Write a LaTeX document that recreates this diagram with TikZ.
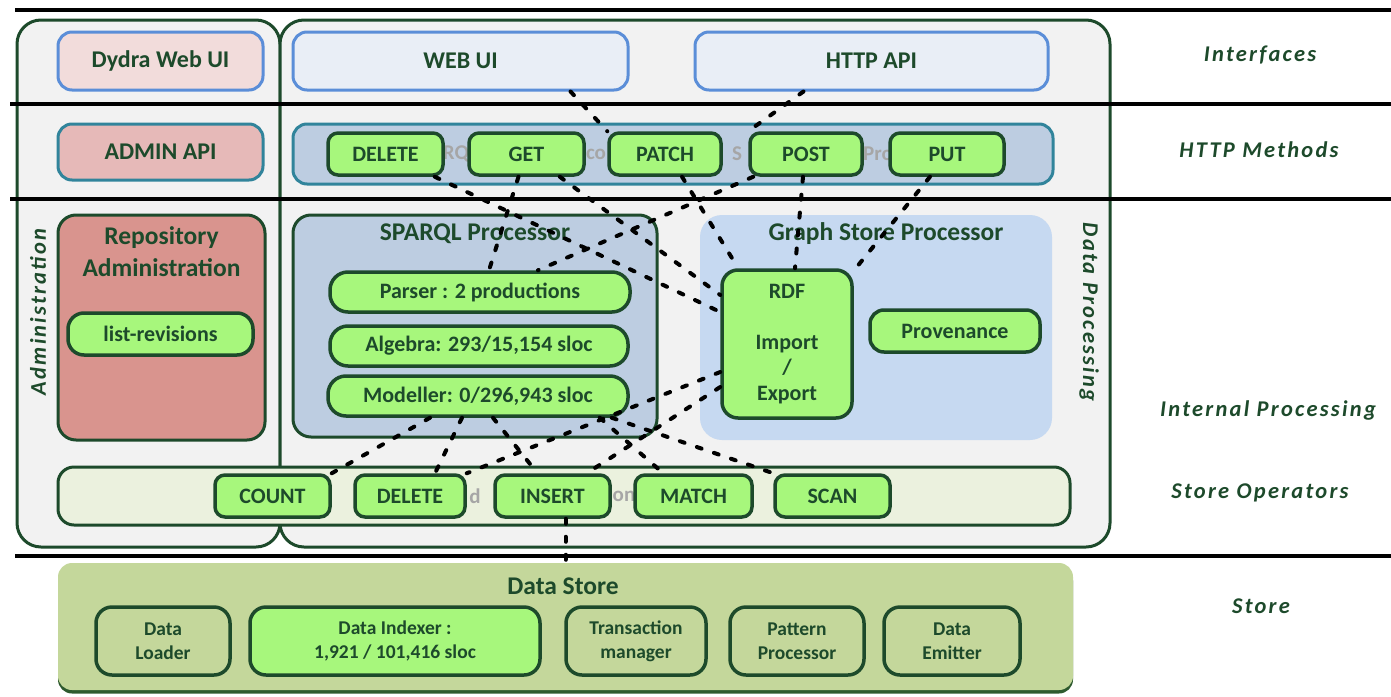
\documentclass[tikz,border=0pt]{standalone}
\usepackage{fontspec}
\setmainfont{Carlito}
\newfontfamily\spacedfont[LetterSpace=10]{Carlito}
\usetikzlibrary{calc,shadows}

\definecolor{dkgreen}{HTML}{1D4A2B}
\definecolor{lime}{HTML}{A7F77C}
\definecolor{framebg}{HTML}{F2F2F2}
\definecolor{uiblue}{HTML}{5B8ED8}
\definecolor{uifill}{HTML}{E9EEF6}
\definecolor{methodteal}{HTML}{31849B}
\definecolor{pinklight}{HTML}{F2DCDB}
\definecolor{pinkmid}{HTML}{E6B9B8}
\definecolor{salmon}{HTML}{D9948E}
\definecolor{steel}{HTML}{BDCDE1}
\definecolor{skyfill}{HTML}{C6D9F1}
\definecolor{opsfill}{HTML}{EBF1DE}
\definecolor{storefill}{HTML}{C4D79B}
\definecolor{storeshade}{HTML}{2E5A2E}
\definecolor{ghost}{HTML}{A6A6A6}

\tikzset{
  frame/.style={draw=dkgreen, line width=3pt, fill=framebg, rounded corners=24pt},
  layerline/.style={line width=3.5pt, draw=black},
  bigtext/.style={text=dkgreen, font=\fontsize{24}{28}\selectfont\bfseries},
  uibox/.style={draw=uiblue, line width=3pt, rounded corners=14pt, fill=uifill, inner sep=0pt, bigtext},
  apibox/.style={draw=methodteal, line width=3pt, rounded corners=14pt, inner sep=0pt, bigtext},
  group/.style={draw=dkgreen, line width=3pt, rounded corners=18pt, inner sep=0pt},
  title/.style={text=dkgreen, font=\fontsize{25.5}{32}\selectfont\bfseries, align=center},
  op/.style={draw=dkgreen, line width=3.5pt, fill=lime, rounded corners=10pt, inner sep=0pt,
    text=dkgreen, font=\fontsize{22}{25.5}\selectfont\bfseries, minimum height=42pt, align=center},
  pill/.style={op, rounded corners=18pt, minimum height=40pt},
  storepart/.style={draw=dkgreen, line width=3.5pt, rounded corners=16pt, inner sep=0pt,
    text=dkgreen, font=\fontsize{19.5}{24}\selectfont\bfseries, minimum height=68pt, align=center},
  ghosttext/.style={text=ghost, font=\fontsize{21}{24}\selectfont\bfseries, inner sep=0pt},
  layerlabel/.style={text=dkgreen, font=\fontsize{22.5}{26}\selectfont\spacedfont\bfseries\itshape},
  link/.style={line width=4pt, line cap=round, dash pattern=on 5pt off 13pt, draw=black},
}

\begin{document}
\begin{tikzpicture}[x=1pt,y=-1pt]
\useasboundingbox (0,0) rectangle (1391,696);

% outer frames
\node[frame, minimum width=263pt, minimum height=527pt] (adminframe) at (148.5,283.5) {};
\node[frame, minimum width=830pt, minimum height=527pt] (procframe) at (695,283.5) {};

% layer separators
\coordinate (sepAl) at (15,10);   \coordinate (sepAr) at (1391,10);
\coordinate (sepBl) at (10,104);  \coordinate (sepBr) at (1391,104);
\coordinate (sepCl) at (10,199);  \coordinate (sepCr) at (1391,199);
\coordinate (sepDl) at (15,556);  \coordinate (sepDr) at (1391,556);
\draw[layerline] (sepAl) -- (sepAr);
\draw[layerline] (sepBl) -- (sepBr);
\draw[layerline] (sepCl) -- (sepCr);
\draw[layerline] (sepDl) -- (sepDr);

% interfaces
\node[uibox, fill=pinklight, minimum width=205pt, minimum height=58pt] (dydra) at (160.5,61) {Dydra Web UI};
\node[uibox, minimum width=335pt, minimum height=58pt] (webui) at (460.5,61) {WEB UI};
\node[uibox, minimum width=353pt, minimum height=58pt] (httpapi) at (871.5,61) {HTTP API};

% http methods
\node[apibox, fill=pinkmid, minimum width=205pt, minimum height=56pt] (adminapi) at (160.5,152) {ADMIN API};
\node[apibox, fill=steel, minimum width=760pt, minimum height=60pt] (methods) at (673,154) {};
\node[ghosttext] (ghostA) at (456,154) {RQ};
\node[ghosttext] (ghostB) at (596,154) {co};
\node[ghosttext] (ghostC) at (737,154) {S};
\node[ghosttext] (ghostD) at (878,154) {Pro};
\node[op, minimum width=115pt] (mdelete) at (385.5,154) {DELETE};
\node[op, minimum width=115pt] (mget) at (526.5,154) {GET};
\node[op, minimum width=112pt] (mpatch) at (665,154) {PATCH};
\node[op, minimum width=112pt] (mpost) at (806,154) {POST};
\node[op, minimum width=114pt] (mput) at (947,154) {PUT};

% administration
\node[group, fill=salmon, minimum width=207pt, minimum height=225pt] (repoadmin) at (161.5,327.5) {};
\node[title] (repotitle) at (161.5,252) {Repository\\Administration};
\node[op, rounded corners=16pt, minimum width=185pt] (listrev) at (160.5,334) {list-revisions};

% SPARQL processor
\node[group, fill=steel, minimum width=364pt, minimum height=222pt] (sparql) at (475,326) {};
\node[title] (sparqltitle) at (475,234) {SPARQL Processor};
\node[pill, minimum width=300pt] (parser) at (480,292) {Parser : 2 productions};
\node[pill, minimum width=298pt] (algebra) at (479,346) {Algebra: 293/15,154 sloc};
\node[pill, minimum width=300pt] (modeller) at (478,396) {Modeller: 0/296,943 sloc};

% graph store processor
\node[fill=skyfill, rounded corners=22pt, inner sep=0pt, minimum width=352pt, minimum height=225pt] (graphstore) at (876,327.5) {};
\node[title] (gsptitle) at (886,234) {Graph Store Processor};
\node[op, rounded corners=16pt, minimum width=130pt, minimum height=148pt] (rdf) at (787,344) {RDF\\[25.5pt]Import\\/\\Export};
\node[op, rounded corners=14pt, minimum width=170pt] (prov) at (955,331) {Provenance};

% store operators
\node[group, fill=opsfill, rounded corners=16pt, minimum width=1012pt, minimum height=58pt] (storeops) at (564,496) {};
\node[ghosttext] (ghostE) at (475,496) {d};
\node[ghosttext] (ghostF) at (624,496) {on};
\node[op, minimum width=115pt] (count) at (272.5,496) {COUNT};
\node[op, minimum width=110pt] (sdelete) at (410,496) {DELETE};
\node[op, minimum width=115pt] (insert) at (552.5,496) {INSERT};
\node[op, minimum width=117pt] (match) at (693.5,496) {MATCH};
\node[op, minimum width=115pt] (scan) at (832.5,496) {SCAN};

% data store
\node[fill=storefill, rounded corners=14pt, inner sep=0pt, minimum width=1015pt, minimum height=127pt,
  drop shadow={shadow xshift=0pt, shadow yshift=-3.5pt, opacity=1, fill=storeshade}] (datastore) at (565.5,626.5) {};
\node[title] (storetitle) at (563,586) {Data Store};
\node[storepart, minimum width=134pt] (loader) at (163,641) {Data\\Loader};
\node[storepart, fill=lime, minimum width=290pt] (indexer) at (395,641) {Data Indexer :\\1,921 / 101,416 sloc};
\node[storepart, minimum width=140pt] (trans) at (636,641) {Transaction\\manager};
\node[storepart, minimum width=134pt] (pattern) at (797,641) {Pattern\\Processor};
\node[storepart, minimum width=136pt] (emitter) at (952,641) {Data\\Emitter};

% side and layer labels
\node[layerlabel, rotate=90] (adminlabel) at (38,312) {Administration};
\node[layerlabel, rotate=-90] (proclabel) at (1089,312) {Data Processing};
\node[layerlabel] (lblinterfaces) at (1260,55) {Interfaces};
\node[layerlabel] (lblmethods) at (1259,150) {HTTP Methods};
\node[layerlabel] (lblinternal) at (1268,410) {Internal Processing};
\node[layerlabel] (lblops) at (1260,493) {Store Operators};
\node[layerlabel] (lblstore) at (1261,606) {Store};

% request routing
\draw[link] ([xshift=110pt]webui.south) -- (mpatch.north west);
\draw[link] ([xshift=-68pt]httpapi.south) -- (mpost.north west);
\draw[link] ([xshift=-10pt]mdelete.south east) -- ([yshift=32pt]rdf.west);
\draw[link] ([xshift=-8pt]mget.south) -- ([xshift=9pt]parser.north);
\draw[link] ([xshift=-26pt]mget.south east) -- ([yshift=49pt]rdf.west);
\draw[link] ([xshift=5pt]mpost.south west) -- ([xshift=58pt]parser.north);
\draw[link] ([xshift=17pt]mpatch.south) -- ([xshift=18pt]rdf.north west);
\draw[link] ([xshift=-3pt]mpost.south) -- ([xshift=8pt]rdf.north);
\draw[link] ([xshift=-17pt]mput.south) -- ([xshift=2pt]rdf.north east);

% operator dispatch
\draw[link] ([yshift=-28pt]rdf.west) -- (sdelete.north east);
\draw[link] ([yshift=-43pt]rdf.west) -- ([xshift=-25pt]insert.north east);
\draw[link] ([xshift=-48pt]modeller.south) -- (count.north east);
\draw[link] ([xshift=-16pt]modeller.south) -- ([xshift=25pt]sdelete.north);
\draw[link] ([xshift=15pt]modeller.south) -- ([xshift=-15pt]insert.north);
\draw[link] ([xshift=-30pt]modeller.south east) -- ([xshift=30pt]match.north west);
\draw[link] ([xshift=-18pt]modeller.south east) -- (scan.north west);
\draw[link] (insert.south -| datastore.north) -- (datastore.north);
\end{tikzpicture}
\end{document}
